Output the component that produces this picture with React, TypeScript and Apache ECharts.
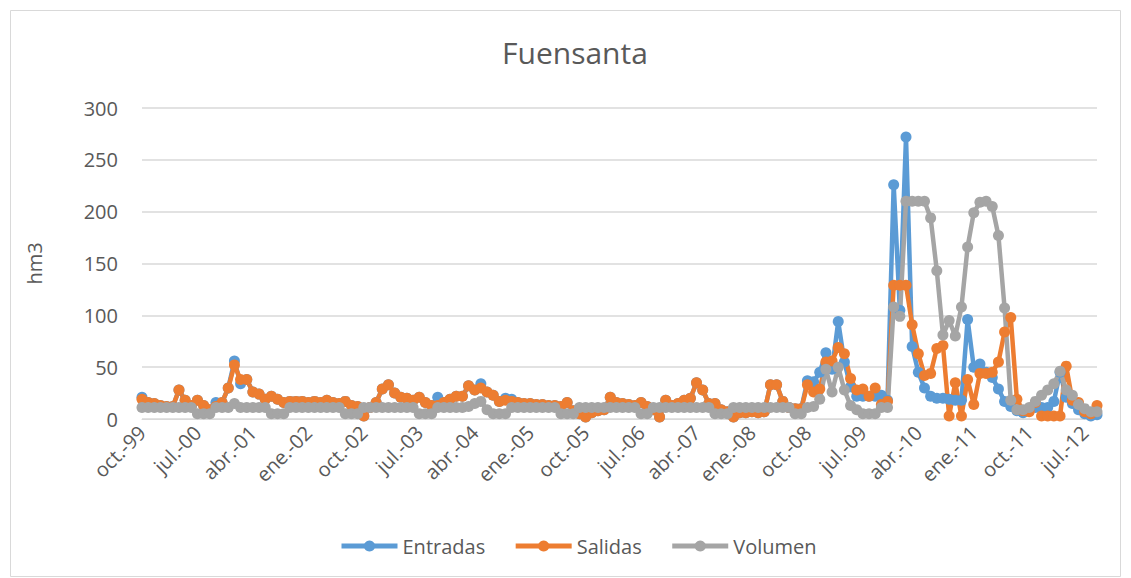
import React, { useEffect, useRef } from "react";
import * as echarts from "echarts";

const MONTHS = ["ene.", "feb.", "mar.", "abr.", "may.", "jun.", "jul.", "ago.", "sep.", "oct.", "nov.", "dic."];
const START_YEAR = 1999;
const START_MONTH = 9; // octubre
const N_POINTS = 156;

const categories: string[] = [];
for (let k = 0; k < N_POINTS; k++) {
  const m = (START_MONTH + k) % 12;
  const y = START_YEAR + Math.floor((START_MONTH + k) / 12);
  categories.push(MONTHS[m] + "-" + String(y % 100).padStart(2, "0"));
}

const salidas = [
  19, 16, 15, 13, 12, 12, 28, 18, 13, 18, 13, 9,
  12, 16, 30, 52, 38, 38, 26, 24, 19, 22, 19, 16,
  17, 17, 17, 16, 17, 16, 18, 16, 15, 17, 13, 12,
  3, 11, 16, 29, 33, 25, 21, 20, 18, 21, 16, 13,
  13, 16, 19, 22, 22, 32, 28, 30, 26, 23, 17, 18,
  17, 16, 15, 15, 14, 14, 13, 13, 12, 16, 8, 5,
  2, 6, 8, 9, 21, 16, 15, 14, 13, 16, 12, 9,
  2, 18, 13, 15, 18, 20, 35, 28, 15, 15, 9, 7,
  2, 6, 6, 7, 6, 7, 33, 33, 17, 11, 10, 10,
  33, 26, 29, 55, 56, 69, 63, 39, 28, 29, 22, 30,
  14, 17, 129, 129, 129, 91, 63, 42, 44, 68, 71, 3,
  35, 3, 38, 14, 44, 44, 45, 55, 84, 98, 19, 8,
  7, 16, 3, 3, 3, 3, 51, 18, 16, 7, 5, 13,
];

const entradas = [
  21, 16, 15, 13, 12, 12, 28, 18, 13, 18, 13, 9,
  16, 16, 30, 56, 34, 38, 26, 24, 19, 22, 19, 16,
  17, 17, 17, 16, 17, 16, 18, 16, 15, 17, 13, 12,
  3, 11, 16, 29, 33, 25, 21, 20, 18, 21, 16, 13,
  21, 16, 19, 22, 22, 32, 28, 34, 26, 23, 17, 20,
  19, 16, 15, 15, 14, 14, 13, 13, 12, 16, 8, 5,
  2, 6, 8, 9, 21, 16, 15, 14, 13, 16, 12, 9,
  2, 18, 13, 15, 18, 20, 35, 28, 15, 15, 9, 7,
  2, 6, 6, 7, 6, 7, 33, 33, 17, 11, 10, 10,
  37, 36, 45, 64, 48, 94, 55, 31, 22, 22, 22, 22,
  23, 18, 226, 105, 272, 70, 45, 30, 22, 20, 20, 19,
  18, 18, 96, 50, 53, 45, 40, 29, 17, 12, 8, 6,
  9, 11, 11, 11, 17, 45, 21, 15, 9, 5, 3, 4,
];

const volumen = [
  11, 11, 11, 11, 11, 11, 11, 11, 11, 5, 5, 5,
  11, 11, 11, 15, 11, 11, 11, 11, 11, 5, 5, 5,
  11, 11, 11, 11, 11, 11, 11, 11, 11, 5, 5, 5,
  11, 11, 11, 11, 11, 11, 11, 11, 11, 5, 5, 5,
  11, 11, 11, 11, 11, 12, 15, 17, 9, 5, 5, 5,
  11, 11, 11, 11, 11, 11, 11, 11, 5, 5, 5, 11,
  11, 11, 11, 11, 11, 11, 11, 11, 11, 5, 5, 11,
  11, 11, 11, 11, 11, 11, 11, 11, 11, 5, 5, 5,
  11, 11, 11, 11, 11, 11, 11, 11, 11, 11, 5, 5,
  11, 12, 19, 48, 26, 50, 28, 13, 9, 5, 5, 5,
  11, 11, 108, 99, 210, 210, 210, 210, 194, 143, 81, 95,
  80, 108, 166, 199, 209, 210, 205, 177, 107, 18, 9, 9,
  11, 17, 23, 28, 34, 46, 28, 23, 14, 10, 7, 7,
];

const Y_TICKS = [0, 50, 100, 150, 200, 250, 300];

const COLORS = ["#5B9BD5", "#ED7D31", "#A5A5A5"];
const FONT = "'Open Sans', sans-serif";

export default function App() {
  const ref = useRef<HTMLDivElement>(null);
  useEffect(() => {
    if (!ref.current) return;
    const chart = echarts.init(ref.current, null, { renderer: "svg" });
    const mk = (name: string, data: number[], color: string) => ({
      name,
      type: "line",
      data,
      symbol: "circle",
      symbolSize: 11,
      showSymbol: true,
      showAllSymbol: true,
      itemStyle: { color },
      lineStyle: { color, width: 4.5 },
      emphasis: { disabled: true },
    });
    chart.setOption({
      animation: false,
      backgroundColor: "#ffffff",
      title: {
        text: "Fuensanta",
        left: 497,
        top: 32,
        textStyle: { fontFamily: FONT, fontSize: 30, fontWeight: "normal", color: "#595959" },
      },
      graphic: [
        {
          type: "rect",
          shape: { x: 10.5, y: 10.5, width: 1110, height: 566 },
          style: { fill: "none", stroke: "#d9d9d9", lineWidth: 1 },
          silent: true,
        },
      ],
      legend: {
        bottom: 17,
        left: 334,
        itemWidth: 56,
        itemHeight: 14,
        itemGap: 28,
        lineStyle: { width: 5 },
        textStyle: { fontFamily: FONT, fontSize: 20, color: "#595959" },
        data: ["Entradas", "Salidas", "Volumen"],
      },
      grid: { left: 142, right: 34, top: 108, bottom: 159, containLabel: false },
      xAxis: {
        type: "category",
        data: categories,
        boundaryGap: false,
        axisLine: { show: true, lineStyle: { color: "#d9d9d9", width: 1 } },
        axisTick: { show: false },
        axisLabel: {
          interval: 8,
          rotate: 45,
          margin: 10,
          fontFamily: FONT,
          fontSize: 20,
          color: "#595959",
        },
        splitLine: { show: false },
      },
      yAxis: {
        type: "value",
        min: Y_TICKS[0],
        max: Y_TICKS[Y_TICKS.length - 1],
        interval: 50,
        name: "hm3",
        nameLocation: "middle",
        nameGap: 98,
        nameRotate: 90,
        nameTextStyle: { fontFamily: FONT, fontSize: 20, color: "#595959" },
        axisLine: { show: false },
        axisTick: { show: false },
        axisLabel: { fontFamily: FONT, fontSize: 20, color: "#595959", margin: 24 },
        splitLine: { lineStyle: { color: "#d9d9d9", width: 1.5 } },
      },
      series: [
        mk("Entradas", entradas, COLORS[0]),
        mk("Salidas", salidas, COLORS[1]),
        mk("Volumen", volumen, COLORS[2]),
      ],
    });
    return () => chart.dispose();
  }, []);
  return (
    <div
      ref={ref}
      style={{ position: "absolute", left: 0, top: 0, width: 1131, height: 578 }}
    />
  );
}
